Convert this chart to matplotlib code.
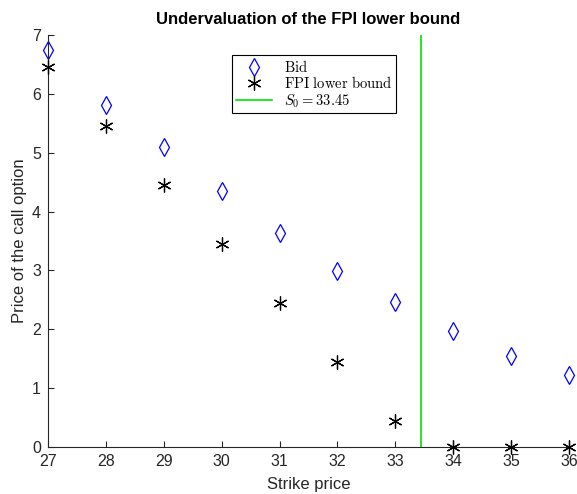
import matplotlib
matplotlib.use('Agg')
import matplotlib.pyplot as plt

plt.rcParams['font.family'] = ['Liberation Sans', 'DejaVu Sans']
plt.rcParams['mathtext.fontset'] = 'cm'

# strike prices and option prices
strikes = [27, 28, 29, 30, 31, 32, 33, 34, 35, 36]
bid = [6.75, 5.81, 5.10, 4.35, 3.64, 2.99, 2.46, 1.97, 1.55, 1.22]
fpi_lower = [6.45, 5.45, 4.45, 3.45, 2.45, 1.45, 0.45, 0.0, 0.0, 0.0]
s0 = 33.45

fig = plt.figure(figsize=(5.77, 4.94), dpi=100)
ax = fig.add_axes([0.0832, 0.0951, 0.903, 0.834])

ax.plot(strikes, bid, linestyle='none', marker='d', markersize=9,
        markerfacecolor='none', markeredgecolor='#0000ff', markeredgewidth=0.9,
        label=r'$\mathrm{Bid}$', clip_on=False)
ax.plot(strikes, fpi_lower, linestyle='none', marker=(6, 2, 0), markersize=10,
        color='black', markeredgewidth=0.9,
        label=r'$\mathrm{FPI\ lower\ bound}$', clip_on=False, zorder=4)
ax.axvline(s0, color='#00e000', linewidth=1.2, label=r'$S_0 = 33.45$')

ax.set_xlim(27, 36)
ax.set_ylim(0, 7)
ax.set_xticks(strikes)
ax.set_yticks(range(0, 8))
ax.tick_params(direction='in', length=4, labelsize=11.5, colors='#262626', pad=5)
for side in ['top', 'right']:
    ax.spines[side].set_visible(False)
for side in ['left', 'bottom']:
    ax.spines[side].set_color('#262626')
    ax.spines[side].set_linewidth(0.8)

ax.set_xlabel('Strike price', fontsize=12, color='#262626', labelpad=6)
ax.set_ylabel('Price of the call option', fontsize=12, color='#262626', labelpad=4)
ax.set_title('Undervaluation of the FPI lower bound', fontsize=12, fontweight='bold', pad=8)

leg = ax.legend(loc='upper left', bbox_to_anchor=(232 / 577, 1 - 55 / 494),
                bbox_transform=fig.transFigure, borderaxespad=0, fontsize=10.5,
                fancybox=False, edgecolor='black', framealpha=1, borderpad=0.25,
                labelspacing=0.05, handlelength=2.5, handletextpad=0.8)
leg.get_frame().set_linewidth(0.8)

fig.savefig('out.png', dpi=100)
